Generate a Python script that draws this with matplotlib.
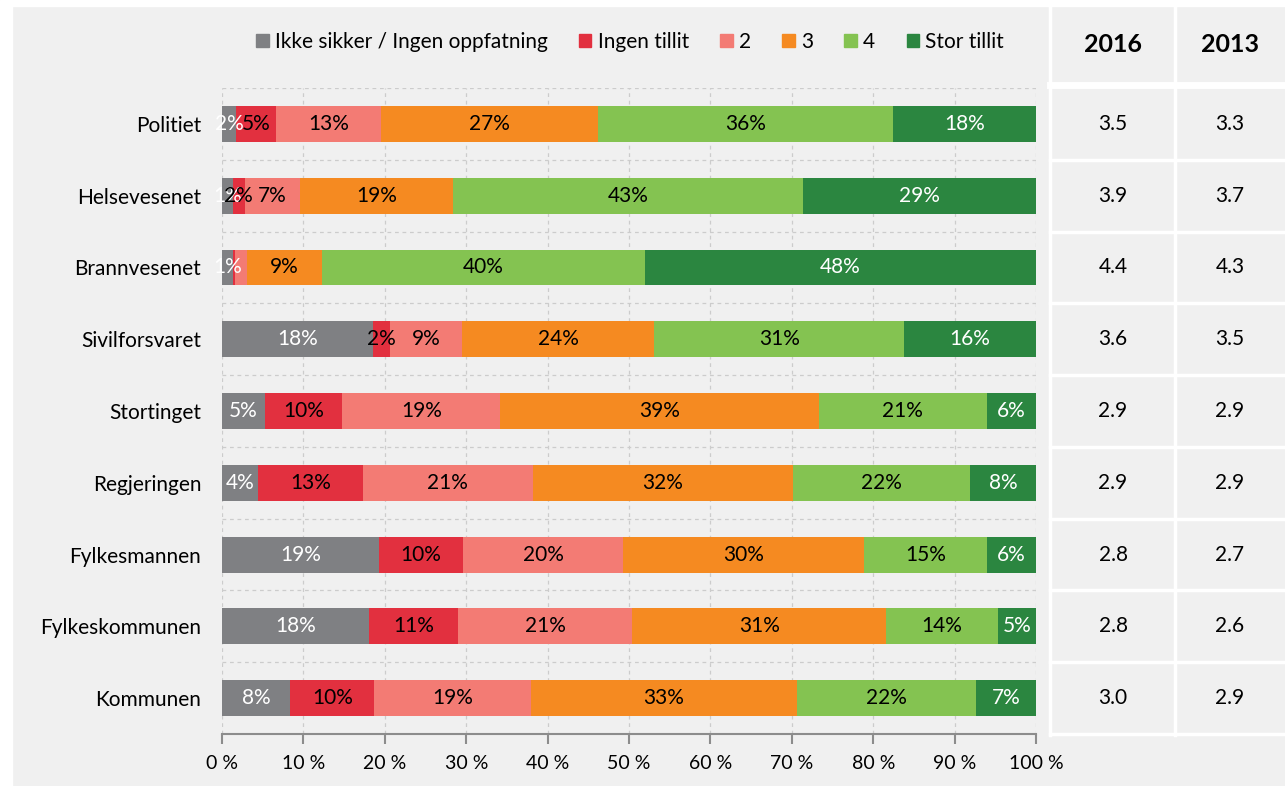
import numpy as np
import matplotlib.pyplot as plt
from matplotlib.lines import Line2D
from matplotlib.patches import Rectangle, Patch

plt.rcParams['font.family'] = ['Lato', 'DejaVu Sans']

categories = ['Politiet', 'Helsevesenet', 'Brannvesenet', 'Sivilforsvaret', 'Stortinget',
              'Regjeringen', 'Fylkesmannen', 'Fylkeskommunen', 'Kommunen']
series = ['Ikke sikker / Ingen oppfatning', 'Ingen tillit', '2', '3', '4', 'Stor tillit']

ikke_sikker = [1.7, 1.3, 1.4, 18.5, 5.3, 4.4, 19.3, 18.1, 8.4]
ingen_tillit = [4.9, 1.5, 0.2, 2.1, 9.5, 12.9, 10.3, 10.9, 10.3]
tillit_2 = [12.9, 6.8, 1.5, 8.9, 19.4, 20.9, 19.7, 21.4, 19.3]
tillit_3 = [26.7, 18.8, 9.2, 23.6, 39.1, 31.9, 29.6, 31.2, 32.6]
tillit_4 = [36.2, 43.0, 39.7, 30.7, 20.7, 21.8, 15.1, 13.7, 22.0]
stor_tillit = [17.6, 28.6, 48.0, 16.2, 6.0, 8.1, 6.0, 4.7, 7.4]

snitt_2016 = ['3.5', '3.9', '4.4', '3.6', '2.9', '2.9', '2.8', '2.8', '3.0']
snitt_2013 = ['3.3', '3.7', '4.3', '3.5', '2.9', '2.9', '2.7', '2.6', '2.9']

# etiketter som er fjernet i originalen
skjulte = {(2, 1), (2, 2)}

farger = ['#7f8083', '#e2303f', '#f37b74', '#f58a21', '#84c351', '#2b8640']
tekstfarger = ['white', 'black', 'black', 'black', 'black', 'white']

W, H = 1285, 786
fig = plt.figure(figsize=(W / 100, H / 100), dpi=100, facecolor='#f0f0f0')

def px(x):
    return x / W

def py(y):
    return 1 - y / H

# hvite kanter øverst og til venstre
fig.add_artist(Rectangle((0, py(6)), 1, 1 - py(6), transform=fig.transFigure, color='white', zorder=0))
fig.add_artist(Rectangle((0, 0), px(12), 1, transform=fig.transFigure, color='white', zorder=0))

ax = fig.add_axes([px(222), py(734), px(1036) - px(222), py(88) - py(734)])
ax.set_facecolor('#f0f0f0')

verdier = np.array([ikke_sikker, ingen_tillit, tillit_2, tillit_3, tillit_4, stor_tillit])
y = np.arange(len(categories))
venstre = np.zeros(len(categories))
for j, navn in enumerate(series):
    ax.barh(y, verdier[j], left=venstre, height=0.5, color=farger[j], label=navn, zorder=3)
    for i in range(len(categories)):
        if (i, j) in skjulte:
            continue
        ax.text(venstre[i] + verdier[j][i] / 2, y[i], f'{verdier[j][i]:.0f}%',
                ha='center', va='center', color=tekstfarger[j], fontsize=15, zorder=4)
    venstre += verdier[j]

ax.set_xlim(0, 100)
ax.set_ylim(len(categories) - 0.5, -0.5)
ax.set_yticks(y)
ax.set_yticklabels(categories, fontsize=15)
ax.set_yticks(np.arange(len(categories) + 1) - 0.5, minor=True)
ax.set_xticks(np.arange(0, 101, 10))
ax.set_xticklabels([f'{v} %' for v in range(0, 101, 10)], fontsize=14)
ax.tick_params(axis='y', which='both', length=0, pad=15)
ax.tick_params(axis='x', length=7, color='#8c8c8c', width=1.5, pad=8)
ax.grid(axis='x', which='major', color='#cccccc', linestyle=(0, (3, 3)), linewidth=0.9, zorder=0)
ax.grid(axis='y', which='minor', color='#cccccc', linestyle=(0, (3, 3)), linewidth=0.9, zorder=0)
for side in ['left', 'right', 'top']:
    ax.spines[side].set_visible(False)
ax.spines['bottom'].set_color('#8c8c8c')
ax.spines['bottom'].set_linewidth(1.5)

handles = [Patch(color=c) for c in farger]
fig.legend(handles, series, loc='center', bbox_to_anchor=(px(630), py(42)), ncol=6,
           frameon=False, fontsize=15, handlelength=0.6, handleheight=0.6,
           handletextpad=0.3, columnspacing=1.5)

# tabell med gjennomsnitt til høyre
kol_midt = [1113, 1230]
rad_topp = 88
rad_h = (734 - 88) / len(categories)
for k, tekst in enumerate(['2016', '2013']):
    fig.text(px(kol_midt[k]), py(45), tekst, ha='center', va='center', fontsize=18, fontweight='bold')
for i in range(len(categories)):
    yc = rad_topp + rad_h * (i + 0.5)
    fig.text(px(kol_midt[0]), py(yc), snitt_2016[i], ha='center', va='center', fontsize=15)
    fig.text(px(kol_midt[1]), py(yc), snitt_2013[i], ha='center', va='center', fontsize=15)

linjer = [((1050, 1050), (6, 735)), ((1174.5, 1174.5), (6, 735))]
for x, yy in linjer:
    fig.add_artist(Line2D([px(x[0]), px(x[1])], [py(yy[0]), py(yy[1])],
                          transform=fig.transFigure, color='white', linewidth=2.5))
fig.add_artist(Line2D([px(1050), 1], [py(84.5), py(84.5)], transform=fig.transFigure,
                      color='white', linewidth=5))
for k in range(1, len(categories) + 1):
    yk = rad_topp + rad_h * k
    fig.add_artist(Line2D([px(1050), 1], [py(yk), py(yk)], transform=fig.transFigure,
                          color='white', linewidth=2.5))

fig.savefig('out.png', dpi=100, facecolor=fig.get_facecolor())
